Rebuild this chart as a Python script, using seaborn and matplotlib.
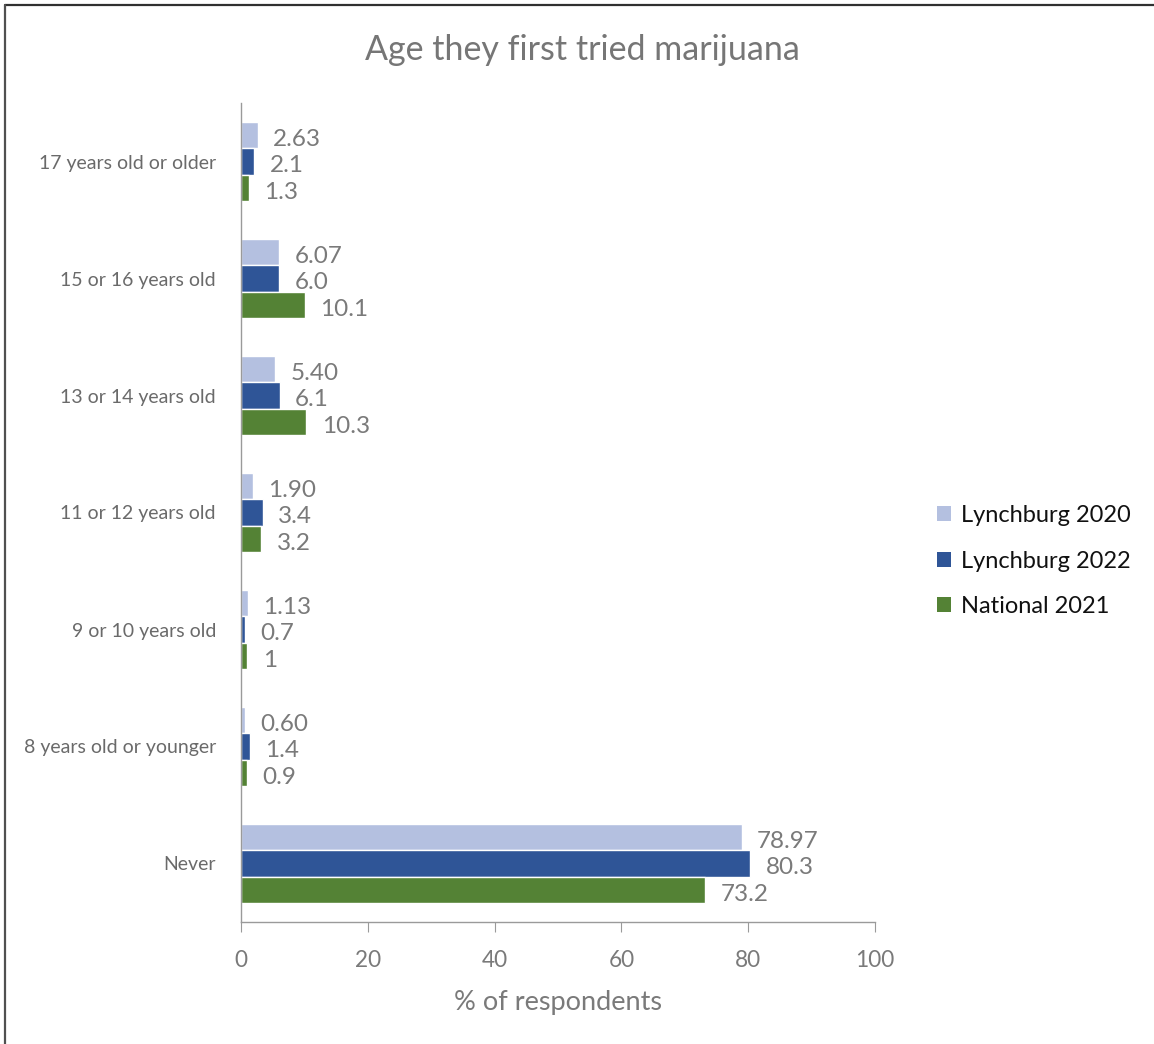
import matplotlib
matplotlib.use("Agg")
import matplotlib.pyplot as plt
import seaborn as sns
import pandas as pd
from matplotlib.lines import Line2D
from matplotlib.patches import Patch

categories = ["17 years old or older", "15 or 16 years old", "13 or 14 years old",
              "11 or 12 years old", "9 or 10 years old", "8 years old or younger", "Never"]
series = ["Lynchburg 2020", "Lynchburg 2022", "National 2021"]
lynchburg_2020 = [2.63, 6.07, 5.40, 1.90, 1.13, 0.60, 78.97]
lynchburg_2022 = [2.1, 6.0, 6.1, 3.4, 0.7, 1.4, 80.3]
national_2021 = [1.3, 10.1, 10.3, 3.2, 1, 0.9, 73.2]
labels_2020 = ["2.63", "6.07", "5.40", "1.90", "1.13", "0.60", "78.97"]
labels_2022 = ["2.1", "6.0", "6.1", "3.4", "0.7", "1.4", "80.3"]
labels_2021 = ["1.3", "10.1", "10.3", "3.2", "1", "0.9", "73.2"]
colors = ["#B4C0E0", "#2F5597", "#548235"]

sns.set_style("white")
plt.rcParams["font.family"] = ["Lato", "DejaVu Sans"]

rows = []
for s, vals in zip(series, [lynchburg_2020, lynchburg_2022, national_2021]):
    for c, v in zip(categories, vals):
        rows.append({"category": c, "series": s, "value": v})
df = pd.DataFrame(rows)

fig = plt.figure(figsize=(11.54, 10.44), dpi=100)
ax = fig.add_axes([241 / 1154, 1 - 922 / 1044, (875 - 241) / 1154, (922 - 103) / 1044])

sns.barplot(data=df, x="value", y="category", hue="series", order=categories,
            hue_order=series, palette=colors, orient="h", width=0.67,
            saturation=1, ax=ax, legend=False, errorbar=None)

for cont, labs in zip(ax.containers, [labels_2020, labels_2022, labels_2021]):
    texts = ax.bar_label(cont, labels=labs, padding=11, fontsize=17.5, color="#7a7a7a")
    for t in texts:
        t.xyann = (11, -3.2)

ax.set_xlim(0, 100)
ax.set_xticks([0, 20, 40, 60, 80, 100])
ax.tick_params(axis="x", labelsize=16.3, labelcolor="#7a7a7a", length=7, color="#9a9a9a",
               direction="out", bottom=True, pad=13)
ax.tick_params(axis="y", labelsize=14, labelcolor="#6a6a6a", length=0, pad=18)
ax.set_ylabel("")
ax.set_xlabel("% of respondents", fontsize=19.5, color="#7a7a7a", labelpad=14)
for side in ["top", "right"]:
    ax.spines[side].set_visible(False)
for side in ["left", "bottom"]:
    ax.spines[side].set_color("#9a9a9a")
    ax.spines[side].set_linewidth(1)

fig.text(582 / 1154, 1 - 50 / 1044, "Age they first tried marijuana", ha="center", va="center",
         fontsize=24.5, color="#767676")

handles = [Patch(facecolor=c, edgecolor="none") for c in colors]
fig.legend(handles, series, loc="center left", bbox_to_anchor=(916 / 1154, 1 - 561 / 1044),
           frameon=False, fontsize=17, handlelength=0.6, handleheight=0.6,
           handletextpad=0.4, labelspacing=1.05, labelcolor="#111111")

fig.add_artist(Line2D([5 / 1154, 1], [1 - 5 / 1044, 1 - 5 / 1044], color="#303030", lw=1.6,
                      transform=fig.transFigure))
fig.add_artist(Line2D([5 / 1154, 5 / 1154], [0, 1 - 5 / 1044], color="#505050", lw=1.6,
                      transform=fig.transFigure))

fig.savefig("out.png", dpi=100)
